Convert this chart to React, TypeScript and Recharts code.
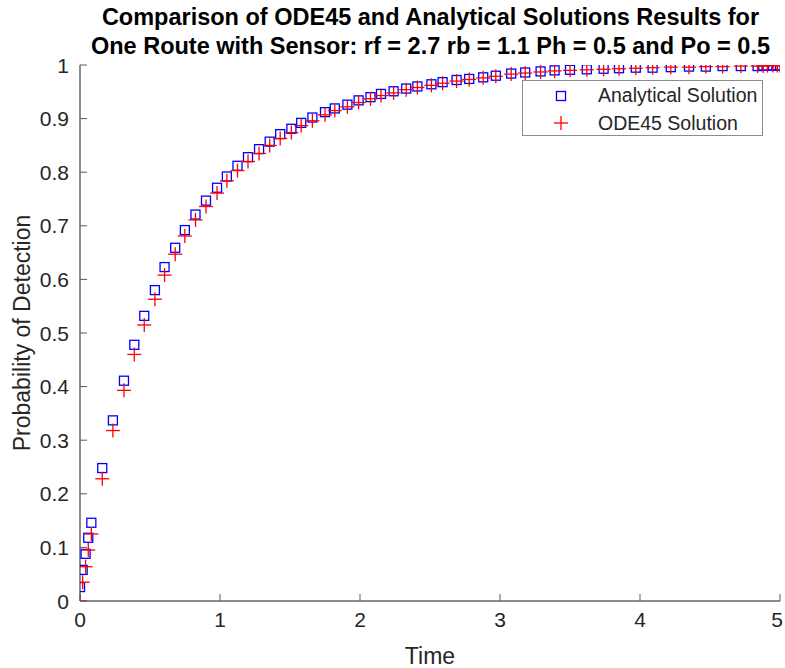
import { Legend, Scatter, ScatterChart, XAxis, YAxis } from "recharts";

const timePoints = [
  0, 0.019, 0.04, 0.059, 0.081, 0.159, 0.235, 0.314, 0.388, 0.459, 0.535,
  0.604, 0.68, 0.749, 0.825, 0.9, 0.979, 1.049, 1.125, 1.2, 1.279, 1.355,
  1.43, 1.51, 1.58, 1.66, 1.75, 1.82, 1.91, 1.99, 2.075, 2.15, 2.24, 2.33,
  2.41, 2.51, 2.59, 2.69, 2.78, 2.88, 2.97, 3.08, 3.18, 3.29, 3.39, 3.5,
  3.62, 3.74, 3.85, 3.97, 4.09, 4.22, 4.35, 4.47, 4.59, 4.72, 4.84, 4.88,
  4.91, 4.95, 4.98, 5.0,
];

const analyticalValues = [
  0.026, 0.058, 0.088, 0.118, 0.146, 0.248, 0.337, 0.411, 0.478, 0.532, 0.58,
  0.623, 0.659, 0.692, 0.721, 0.747, 0.771, 0.792, 0.812, 0.828, 0.843, 0.857,
  0.871, 0.881, 0.892, 0.902, 0.912, 0.919, 0.926, 0.934, 0.94, 0.946, 0.951,
  0.956, 0.96, 0.964, 0.968, 0.972, 0.974, 0.977, 0.98, 0.984, 0.986, 0.988,
  0.99, 0.991, 0.992, 0.993, 0.994, 0.995, 0.995, 0.996, 0.997, 0.997, 0.998,
  0.998, 0.998, 0.999, 0.999, 0.999, 0.999, 0.999,
];

const odeValues = [
  0, 0.035, 0.064, 0.095, 0.125, 0.228, 0.318, 0.393, 0.46, 0.515, 0.563,
  0.608, 0.647, 0.681, 0.711, 0.736, 0.761, 0.784, 0.803, 0.82, 0.835, 0.85,
  0.863, 0.874, 0.887, 0.896, 0.907, 0.915, 0.922, 0.93, 0.937, 0.943, 0.948,
  0.954, 0.958, 0.962, 0.966, 0.97, 0.973, 0.976, 0.979, 0.983, 0.985, 0.987,
  0.989, 0.99, 0.991, 0.992, 0.993, 0.994, 0.995, 0.996, 0.996, 0.997, 0.997,
  0.998, 0.998, 0.998, 0.999, 0.999, 0.999, 0.999,
];

const xTicks = [0, 1, 2, 3, 4, 5];
const yTicks = [0, 0.1, 0.2, 0.3, 0.4, 0.5, 0.6, 0.7, 0.8, 0.9, 1];

const analyticalData = timePoints.map((t, i) => ({ t, v: analyticalValues[i] }));
const odeData = timePoints.map((t, i) => ({ t, v: odeValues[i] }));

const FONT = "'Liberation Sans', Arial, Helvetica, sans-serif";
const TEXT = "#262626";
const BOX = "#8c8c8c";
const TICK = "#5a5a5a";

function SquareMark(props: any) {
  const { cx, cy } = props;
  if (cx == null || cy == null) return null;
  return (
    <rect x={cx - 4.5} y={cy - 4.5} width={9} height={9} fill="none" stroke="#0000ff" strokeWidth={1.3} />
  );
}

function PlusMark(props: any) {
  const { cx, cy } = props;
  if (cx == null || cy == null) return null;
  return (
    <g stroke="#ff0000" strokeWidth={1.3}>
      <line x1={cx - 7} y1={cy} x2={cx + 7} y2={cy} />
      <line x1={cx} y1={cy - 7} x2={cx} y2={cy + 7} />
    </g>
  );
}

function BottomTick(props: any) {
  const { x, y, payload } = props;
  // keep the last label inside the picture
  const tx = Math.min(x, 777);
  return (
    <g>
      <line x1={x} y1={y} x2={x} y2={y - 7} stroke={TICK} />
      <text x={tx} y={y + 26} textAnchor="middle" fontSize={21} fill={TEXT} fontFamily={FONT}>
        {payload.value}
      </text>
    </g>
  );
}

function TopTick(props: any) {
  const { x, y } = props;
  return <line x1={x} y1={y} x2={x} y2={y + 7} stroke={TICK} />;
}

function LeftTick(props: any) {
  const { x, y, payload } = props;
  return (
    <g>
      <line x1={x} y1={y} x2={x + 7} y2={y} stroke={TICK} />
      <text x={x - 11} y={y + 7.5} textAnchor="end" fontSize={21} fill={TEXT} fontFamily={FONT}>
        {String(Math.round(payload.value * 10) / 10)}
      </text>
    </g>
  );
}

function RightTick(props: any) {
  const { x, y } = props;
  return <line x1={x} y1={y} x2={x - 7} y2={y} stroke={TICK} />;
}

function LegendBox() {
  const row = { display: "flex", alignItems: "center", height: 27.6 } as const;
  return (
    <div
      style={{
        width: 241,
        height: 56,
        border: `1px solid ${BOX}`,
        background: "#fff",
        fontFamily: FONT,
        fontSize: 19.5,
        color: TEXT,
        boxSizing: "border-box",
        paddingTop: 1,
      }}
    >
      <div style={row}>
        <svg width={75} height={20}>
          <rect x={33.5} y={5.5} width={9} height={9} fill="none" stroke="#0000ff" strokeWidth={1.3} />
        </svg>
        <span>Analytical Solution</span>
      </div>
      <div style={row}>
        <svg width={75} height={20}>
          <line x1={31} y1={10} x2={45} y2={10} stroke="#ff0000" strokeWidth={1.3} />
          <line x1={38} y1={3} x2={38} y2={17} stroke="#ff0000" strokeWidth={1.3} />
        </svg>
        <span>ODE45 Solution</span>
      </div>
    </div>
  );
}

export default function App() {
  return (
    <div style={{ position: "absolute", left: 0, top: 0, width: 785, height: 668, background: "#fff" }}>
      <div
        style={{
          position: "absolute",
          left: 0,
          top: 3,
          width: 861,
          textAlign: "center",
          fontFamily: FONT,
          fontWeight: "bold",
          fontSize: 23.5,
          lineHeight: "29px",
          color: "#000",
        }}
      >
        <div>Comparison of ODE45 and Analytical Solutions Results for</div>
        <div>One Route with Sensor: rf = 2.7 rb = 1.1 Ph = 0.5 and Po = 0.5</div>
      </div>
      <ScatterChart
        width={785}
        height={668}
        margin={{ top: 65, right: 5, bottom: 0, left: 0 }}
        style={{ position: "absolute", left: 0, top: 0 }}
      >
        <XAxis
          xAxisId="b"
          dataKey="t"
          type="number"
          domain={[0, 5]}
          ticks={xTicks}
          allowDataOverflow
          height={67}
          tickSize={0}
          tickMargin={0}
          tickLine={false}
          axisLine={{ stroke: BOX, strokeWidth: 2 }}
          tick={<BottomTick />}
          label={{ value: "Time", position: "insideBottom", offset: 4, fill: TEXT, fontSize: 23, fontFamily: FONT }}
        />
        <XAxis
          xAxisId="t"
          orientation="top"
          type="number"
          domain={[0, 5]}
          ticks={xTicks}
          allowDataOverflow
          height={0}
          tickSize={0}
          tickMargin={0}
          tickLine={false}
          axisLine={{ stroke: BOX, strokeWidth: 2 }}
          tick={<TopTick />}
        />
        <YAxis
          yAxisId="l"
          dataKey="v"
          type="number"
          domain={[0, 1]}
          ticks={yTicks}
          allowDataOverflow
          width={80}
          tickSize={0}
          tickMargin={0}
          tickLine={false}
          axisLine={{ stroke: BOX, strokeWidth: 2 }}
          tick={<LeftTick />}
          label={{
            value: "Probability of Detection",
            angle: -90,
            position: "insideLeft",
            offset: 22,
            fill: TEXT,
            fontSize: 23,
            fontFamily: FONT,
            style: { textAnchor: "middle" },
          }}
        />
        <YAxis
          yAxisId="r"
          orientation="right"
          type="number"
          domain={[0, 1]}
          ticks={yTicks}
          allowDataOverflow
          width={0}
          tickSize={0}
          tickMargin={0}
          tickLine={false}
          axisLine={{ stroke: BOX, strokeWidth: 2 }}
          tick={<RightTick />}
        />
        <Scatter
          name="Analytical Solution"
          data={analyticalData}
          xAxisId="b"
          yAxisId="l"
          shape={<SquareMark />}
          isAnimationActive={false}
        />
        <Scatter
          name="ODE45 Solution"
          data={odeData}
          xAxisId="b"
          yAxisId="l"
          shape={<PlusMark />}
          isAnimationActive={false}
        />
        <Legend
          layout="vertical"
          align="center"
          verticalAlign="middle"
          content={() => <LegendBox />}
          wrapperStyle={{ position: "absolute", left: 522, top: 80, width: 241, height: 56 }}
        />
      </ScatterChart>
    </div>
  );
}
